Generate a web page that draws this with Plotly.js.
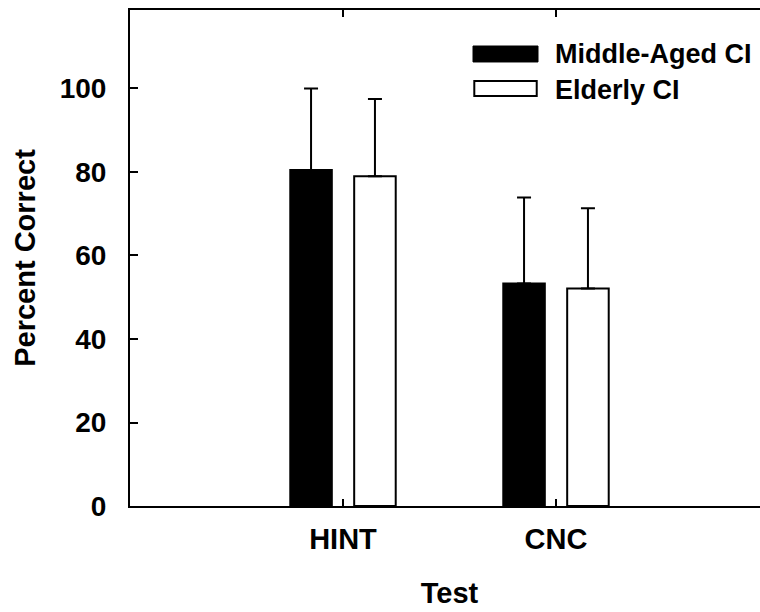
<!DOCTYPE html>
<html>
<head>
<meta charset="utf-8">
<script src="https://cdn.plot.ly/plotly-3.0.1.min.js"></script>
<style>
html,body{margin:0;padding:0;overflow:hidden;background:#fff;}
#chart{width:772px;height:612px;}
</style>
</head>
<body>
<div id="chart"></div>
<script>
// Data
const tests = ['HINT', 'CNC'];
const middleAged = [80.5, 53.3];
const middleAgedErr = [19.5, 20.6];
const elderly = [79.0, 52.1];
const elderlyErr = [18.5, 19.2];
const zeroErr = [0, 0];
const seriesNames = ['Middle-Aged CI', 'Elderly CI'];
const yTicks = [0, 20, 40, 60, 80, 100];

const FONT = 'Arial, "Liberation Sans", sans-serif';

const traces = [
  {
    type: 'bar', name: seriesNames[0], x: tests, y: middleAged,
    marker: {color: '#000', line: {color: '#000', width: 2}},
    error_y: {type: 'data', symmetric: false, array: middleAgedErr, arrayminus: zeroErr,
              color: '#000', thickness: 2, width: 7},
    showlegend: false
  },
  {
    type: 'bar', name: seriesNames[1], x: tests, y: elderly,
    marker: {color: '#fff', line: {color: '#000', width: 2}},
    error_y: {type: 'data', symmetric: false, array: elderlyErr, arrayminus: zeroErr,
              color: '#000', thickness: 2, width: 7},
    showlegend: false
  }
];

// legend drawn in paper coords
const lx0 = 0.5368, lx1 = 0.6385, ltx = 0.662;
const layout = {
  width: 772, height: 612,
  margin: {l: 130, r: 3, t: 10, b: 106},
  paper_bgcolor: '#fff', plot_bgcolor: '#fff',
  barmode: 'group', bargap: 0.4, bargroupgap: 0.35,
  font: {family: FONT, color: '#000'},
  xaxis: {
    range: [-1, 2], type: 'category',
    showline: true, linecolor: '#000', linewidth: 2, mirror: 'ticks',
    ticks: 'inside', ticklen: 7, tickwidth: 2, tickcolor: '#000',
    showgrid: false, zeroline: false,
    tickfont: {family: FONT, size: 29, weight: 'bold', color: '#000'},
    ticklabelstandoff: 6,
    title: {text: 'Test', font: {family: FONT, size: 29, weight: 'bold', color: '#000'}, standoff: 29}
  },
  yaxis: {
    range: [0, 118.8], tickvals: yTicks, ticktext: yTicks.map(String),
    showline: true, linecolor: '#000', linewidth: 2, mirror: 'ticks',
    ticks: 'inside', ticklen: 8, tickwidth: 2, tickcolor: '#000',
    showgrid: false, zeroline: false,
    tickfont: {family: FONT, size: 28, weight: 'bold', color: '#000'},
    ticklabelstandoff: 16,
    title: {text: 'Percent Correct', font: {family: FONT, size: 29, weight: 'bold', color: '#000'}, standoff: 16}
  },
  shapes: [
    {type: 'rect', xref: 'paper', yref: 'paper', x0: lx0, x1: lx1, y0: 0.8952, y1: 0.9274,
     fillcolor: '#000', line: {color: '#000', width: 1}},
    {type: 'rect', xref: 'paper', yref: 'paper', x0: lx0 + 0.002, x1: lx1 - 0.002, y0: 0.8266, y1: 0.8569,
     fillcolor: '#fff', line: {color: '#000', width: 2}}
  ],
  annotations: [
    {xref: 'paper', yref: 'paper', x: ltx, y: 0.9113, xanchor: 'left', yanchor: 'middle',
     text: seriesNames[0], showarrow: false,
     font: {family: FONT, size: 27, weight: 'bold', color: '#000'}},
    {xref: 'paper', yref: 'paper', x: ltx, y: 0.8397, xanchor: 'left', yanchor: 'middle',
     text: seriesNames[1], showarrow: false,
     font: {family: FONT, size: 27, weight: 'bold', color: '#000'}}
  ]
};

Plotly.newPlot('chart', traces, layout, {displayModeBar: false, staticPlot: true});
</script>
</body>
</html>
